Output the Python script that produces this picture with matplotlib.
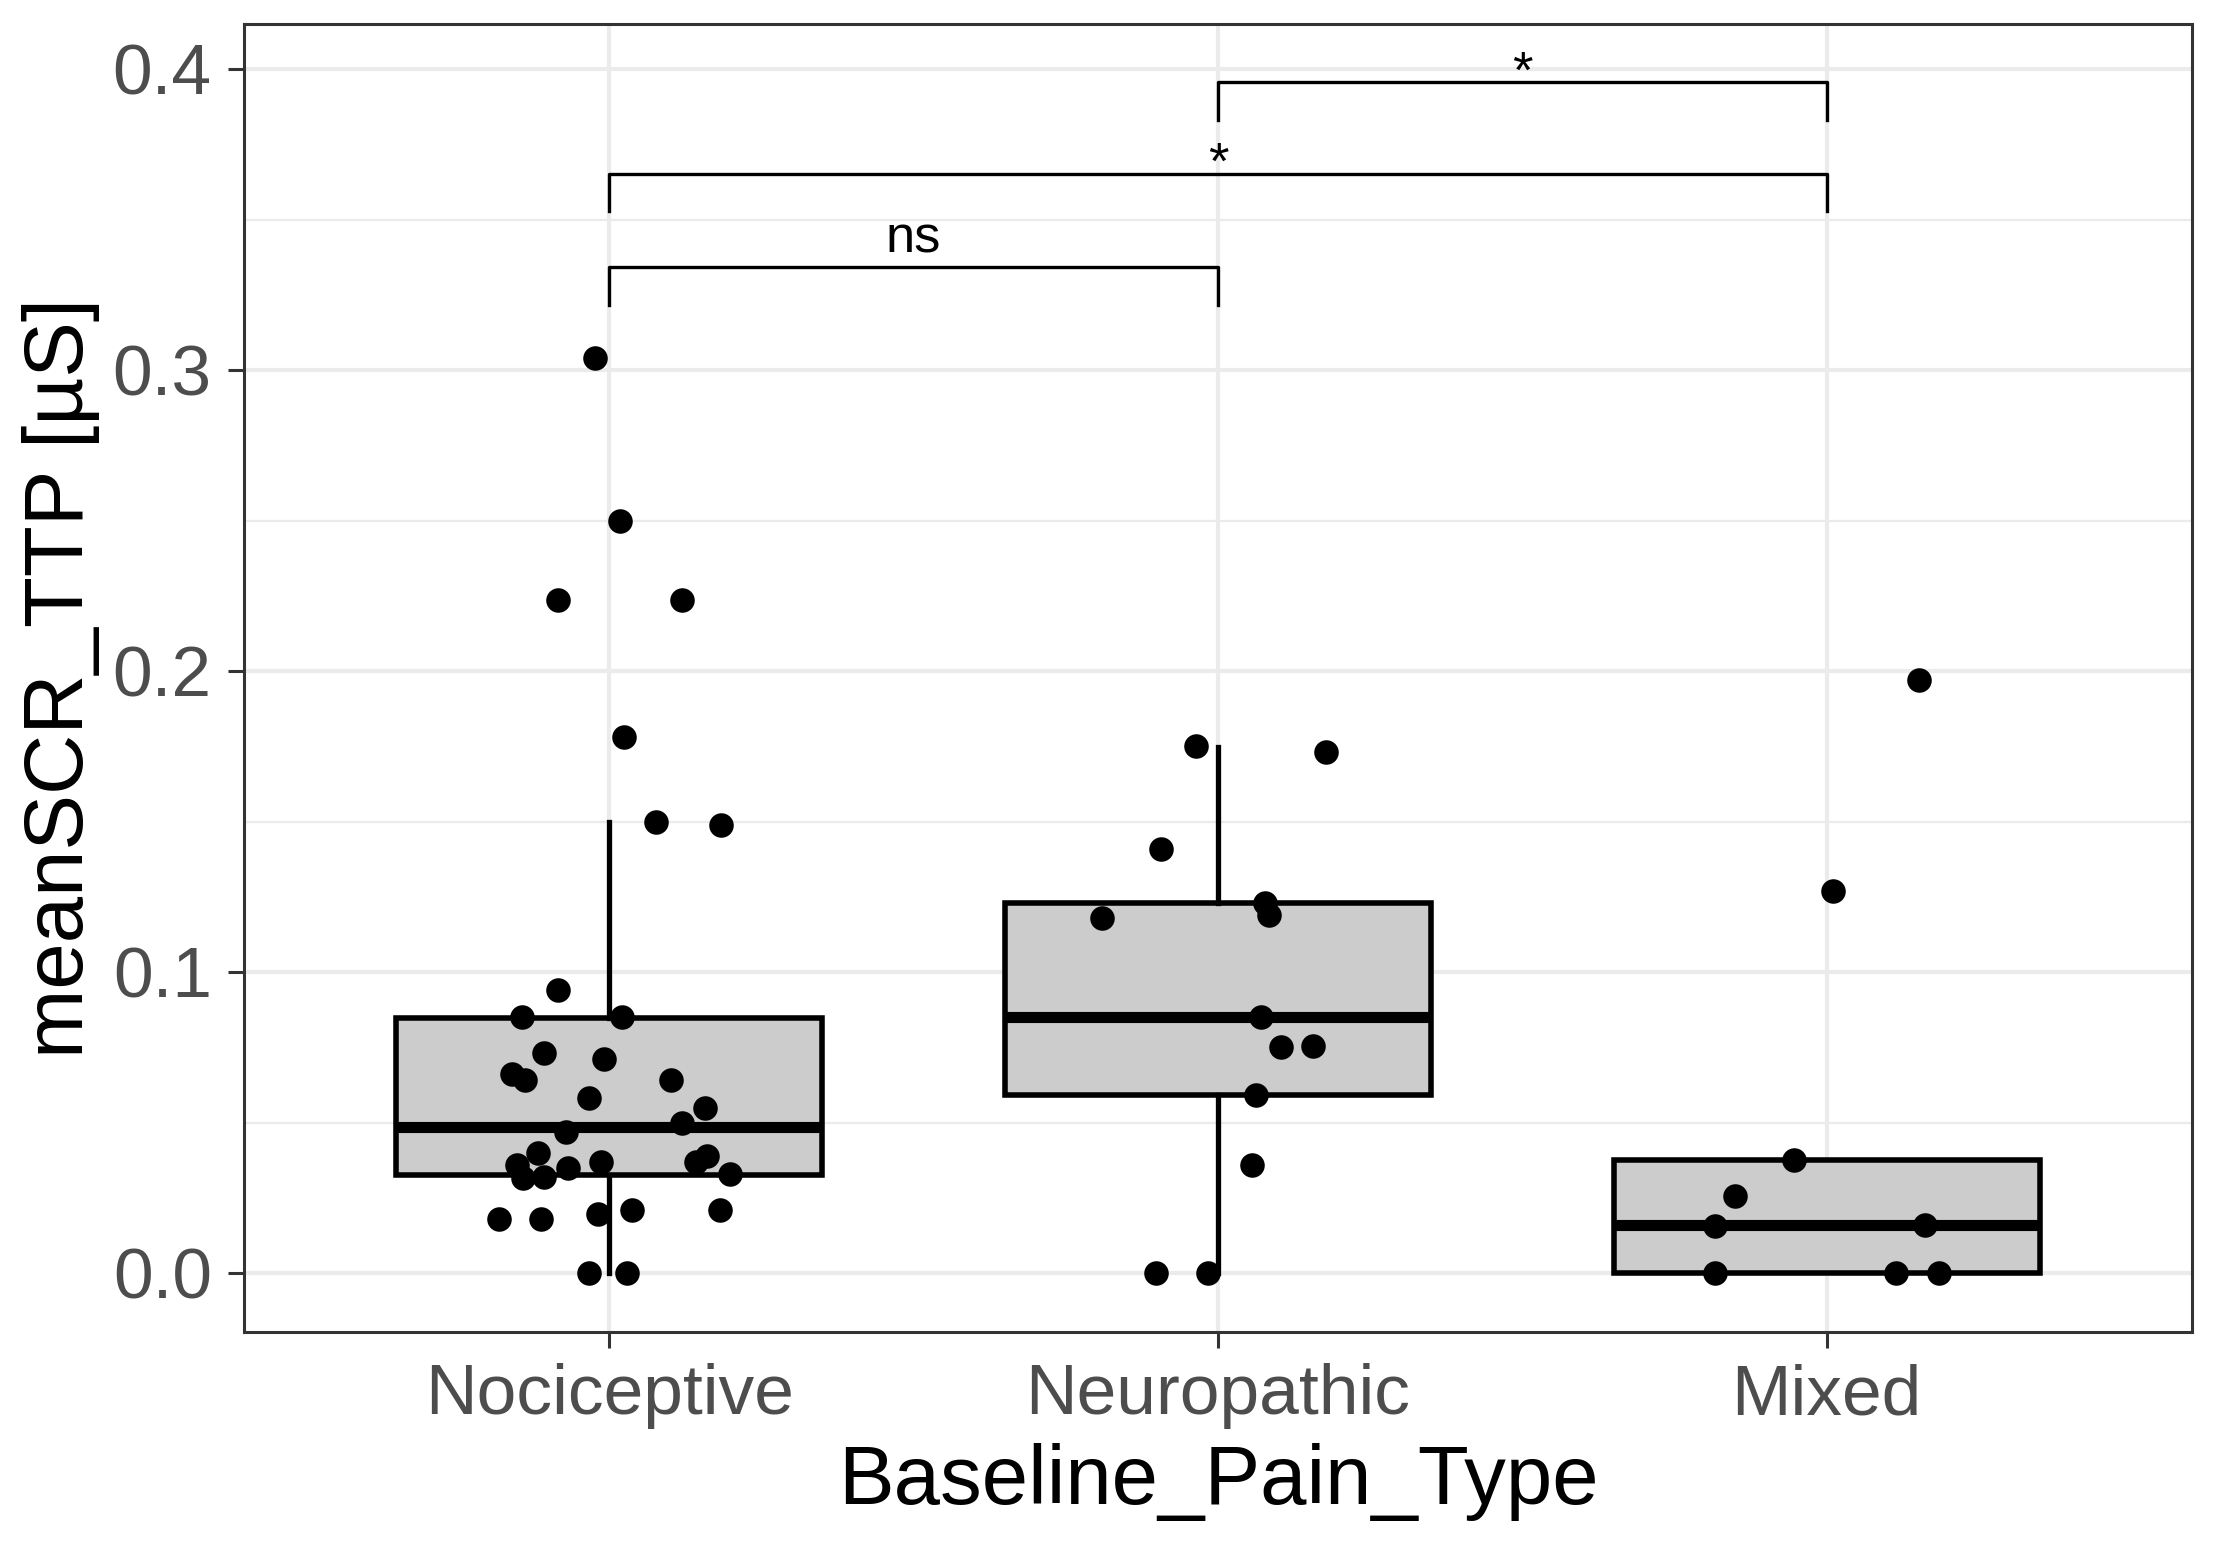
import matplotlib
matplotlib.use("Agg")
import matplotlib.pyplot as plt
from matplotlib.ticker import MultipleLocator

plt.rcParams['font.family'] = ['Liberation Sans', 'DejaVu Sans']

# categories
groups = ["Nociceptive", "Neuropathic", "Mixed"]

# points (value, horizontal jitter in category units)
noci_vals = [0.304, 0.250, 0.2235, 0.2235, 0.178, 0.150, 0.149, 0.094, 0.085, 0.085,
             0.073, 0.071, 0.066, 0.064, 0.064, 0.058, 0.055, 0.050, 0.047, 0.040,
             0.039, 0.037, 0.036, 0.037, 0.035, 0.0315, 0.032, 0.033, 0.018, 0.018,
             0.0195, 0.021, 0.021, 0.0, 0.0]
noci_jit = [-0.023, 0.018, -0.084, 0.119, 0.024, 0.077, 0.183, -0.084, -0.143, 0.021,
            -0.107, -0.008, -0.160, -0.139, 0.102, -0.034, 0.158, 0.120, -0.071, -0.117,
            0.160, 0.143, -0.151, -0.013, -0.068, -0.141, -0.107, 0.198, -0.181, -0.112,
            -0.018, 0.038, 0.182, -0.033, 0.029]

neuro_vals = [0.175, 0.173, 0.141, 0.123, 0.119, 0.118, 0.085, 0.075, 0.0755, 0.059,
              0.036, 0.0, 0.0]
neuro_jit = [-0.036, 0.177, -0.093, 0.077, 0.083, -0.190, 0.071, 0.104, 0.156, 0.063,
             0.056, -0.102, -0.017]

mixed_vals = [0.197, 0.127, 0.0376, 0.0256, 0.0157, 0.016, 0.0, 0.0, 0.0]
mixed_jit = [0.152, 0.010, -0.053, -0.150, -0.184, 0.161, -0.183, 0.114, 0.184]

# box statistics
q1 = [0.0326, 0.059, 0.0]
med = [0.0484, 0.0851, 0.016]
q3 = [0.0848, 0.123, 0.0376]
whis_lo = [0.0, 0.0, 0.0]
whis_hi = [0.1499, 0.1748, 0.0376]

# significance brackets
pairs = [(1, 2), (1, 3), (2, 3)]
bracket_y = [0.3343, 0.3653, 0.3956]
bracket_lab = ["ns", "*", "*"]
tip = 0.0125

fig = plt.figure(figsize=(11.085, 7.74), dpi=200)
ax = fig.add_axes([0.1101, 0.1395, 0.8786, 0.845])

stats = []
for i in range(3):
    stats.append({"med": med[i], "q1": q1[i], "q3": q3[i],
                  "whislo": whis_lo[i], "whishi": whis_hi[i], "fliers": []})

ax.bxp(stats, positions=[1, 2, 3], widths=0.7, patch_artist=True,
       showfliers=False, showcaps=False,
       boxprops=dict(facecolor="#CCCCCC", edgecolor="black", linewidth=2.0),
       medianprops=dict(color="black", linewidth=4.0, solid_capstyle="butt"),
       whiskerprops=dict(color="black", linewidth=1.9), zorder=2)

for pos, vals, jit in [(1, noci_vals, noci_jit), (2, neuro_vals, neuro_jit), (3, mixed_vals, mixed_jit)]:
    xs = [pos + j for j in jit]
    ax.scatter(xs, vals, s=78, color="black", linewidths=0, zorder=3)

for (a, b), yb, lab in zip(pairs, bracket_y, bracket_lab):
    ax.plot([a, a, b, b], [yb - tip, yb, yb, yb - tip], color="black", linewidth=1.2, zorder=4)
    off = 5 if lab == "ns" else -1.8
    ax.annotate(lab, xy=((a + b) / 2, yb), xytext=(0, off), textcoords="offset points",
                ha="center", va="baseline", fontsize=18.9, color="black")

ax.set_xlim(0.4, 3.6)
ax.set_ylim(-0.0196, 0.415)
ax.set_xticks([1, 2, 3])
ax.set_xticklabels(groups)
ax.yaxis.set_minor_locator(MultipleLocator(0.05))
ax.set_yticks([0.0, 0.1, 0.2, 0.3, 0.4])
ax.set_yticklabels(["0.0", "0.1", "0.2", "0.3", "0.4"])

ax.grid(which="major", color="#EBEBEB", linewidth=1.5)
ax.grid(which="minor", axis="y", color="#EBEBEB", linewidth=0.8)
ax.set_axisbelow(True)

ax.tick_params(which="major", length=5.8, width=1.1, color="#333333",
               labelcolor="#4D4D4D", labelsize=25.7)
ax.tick_params(axis="y", pad=5.8)
ax.tick_params(axis="x", pad=5.5)
ax.tick_params(which="minor", length=0)
for s in ax.spines.values():
    s.set_color("#333333")
    s.set_linewidth(1.1)

ax.set_xlabel("Baseline_Pain_Type", fontsize=30, color="black", labelpad=5)
ax.set_ylabel("meanSCR_TTP [µS]", fontsize=30, color="black", labelpad=4.5)

fig.savefig("out.png", dpi=200, facecolor="white")
